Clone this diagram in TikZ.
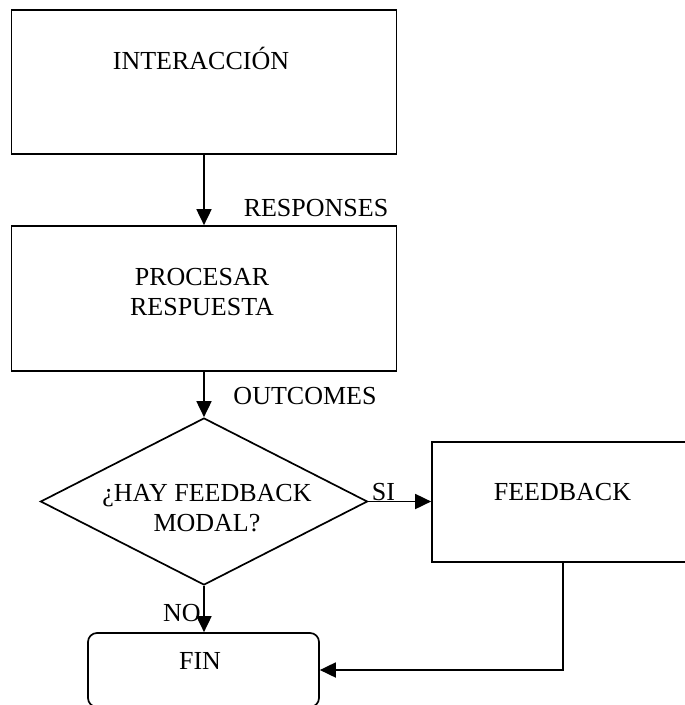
\documentclass[tikz,border=0pt]{standalone}
\usepackage{fontspec}
\setmainfont{Liberation Serif}
\usetikzlibrary{arrows.meta,shapes.geometric}

\tikzset{
  frame/.style={draw=black, line width=1.7pt, fill=none, inner sep=0pt},
  caption/.style={inner sep=0pt, anchor=base, align=center,
                  font=\fontsize{26}{30}\selectfont},
  flow/.style={draw=black, line width=1.8pt,
               -{Triangle[length=16pt,width=15pt]}},
}

\begin{document}
\begin{tikzpicture}[x=1pt,y=-1pt]
  % page frame
  \path[use as bounding box, clip] (0,0) rectangle (685,705);

  % boxes
  \node[frame, rectangle, minimum width=385pt, minimum height=144pt] (int) at (204,82) {};
  \node[frame, rectangle, minimum width=385pt, minimum height=145pt] (proc) at (204,298.5) {};
  \node[frame, diamond, minimum width=327pt, minimum height=167pt] (dec) at (204,501.5) {};
  \node[frame, rectangle, minimum width=262pt, minimum height=120pt] (fb) at (563,502) {};
  \node[frame, rectangle, rounded corners=9pt, minimum width=231pt, minimum height=74pt] (fin) at (203.5,670) {};

  % texts inside boxes (anchored on the baseline of the last line)
  \node[caption] (intTxt) at (201,69) {INTERACCIÓN};
  \node[caption] (procTxt) at (202,315) {PROCESAR\\RESPUESTA};
  \node[caption] (decTxt) at (207,531) {¿HAY FEEDBACK\\MODAL?};
  \node[caption] (fbTxt) at (562.5,500) {FEEDBACK};
  \node[caption] (finTxt) at (200,669) {FIN};

  % connector labels
  \node[caption] (respLbl) at (316,216) {RESPONSES};
  \node[caption] (outLbl) at (305,404) {OUTCOMES};
  \node[caption] (siLbl) at (383.5,500) {SI};
  \node[caption] (noLbl) at (182,621) {NO};

  % connectors
  \draw[flow] (int.south) -- (proc.north);
  \draw[flow] (proc.south) -- (dec.north);
  \draw[flow] (dec.east) -- (dec.east -| fb.west);
  \draw[flow] (dec.south) -- (fin.north -| dec.south);
  \draw[flow] (fb.south) |- (fin.east);
\end{tikzpicture}
\end{document}
